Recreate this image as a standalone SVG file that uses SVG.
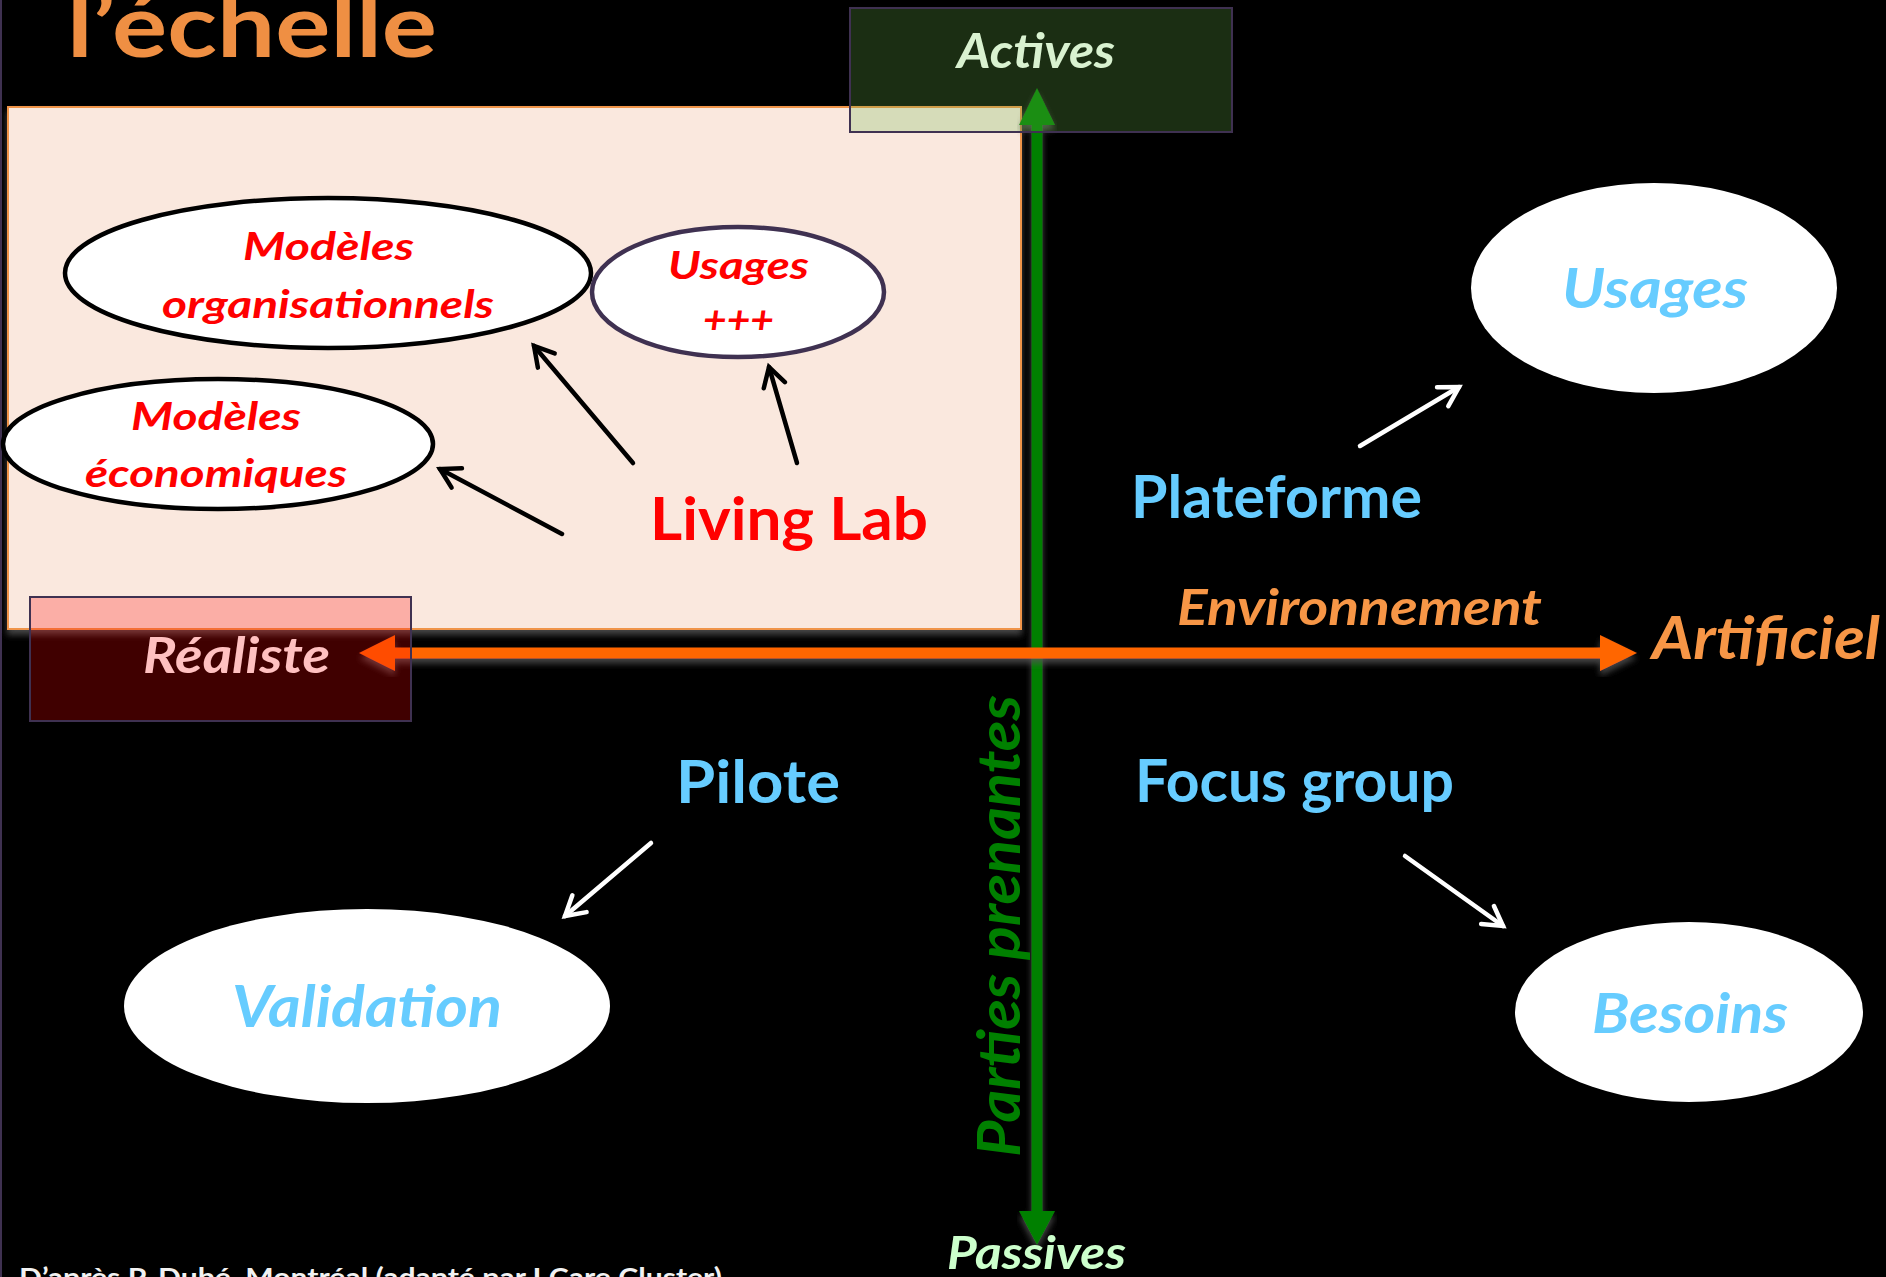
<svg xmlns="http://www.w3.org/2000/svg" width="1886" height="1277" viewBox="0 0 1886 1277">
<defs>
<style>
text{font-family:Lato,"Open Sans","Liberation Sans",sans-serif;font-weight:bold}
.it{font-style:italic}
.red{fill:#FF0000}
.blue{fill:#66CCFF}
.orange{fill:#F79646}
.inner{fill:#FFFFFF;stroke:#000000;stroke-width:4.5}
.outer{fill:#FFFFFF}
.ba{stroke:#000000;stroke-width:4.5;fill:none;stroke-linecap:round}
.wa{stroke:#FFFFFF;stroke-width:4.5;fill:none;stroke-linecap:round}
</style>
<marker id="hb" markerUnits="userSpaceOnUse" markerWidth="40" markerHeight="40" viewBox="-30 -20 40 40" refX="0" refY="0" orient="auto">
<path d="M-19,-11 L0,0 L-19,11" fill="none" stroke="#000000" stroke-width="4.5" stroke-linecap="round" stroke-linejoin="miter"/>
</marker>
<marker id="hw" markerUnits="userSpaceOnUse" markerWidth="40" markerHeight="40" viewBox="-30 -20 40 40" refX="0" refY="0" orient="auto">
<path d="M-19,-11 L0,0 L-19,11" fill="none" stroke="#FFFFFF" stroke-width="4.5" stroke-linecap="round" stroke-linejoin="miter"/>
</marker>
<filter id="sh" x="-5%" y="-5%" width="110%" height="120%">
<feDropShadow dx="0" dy="5" stdDeviation="3" flood-color="#555555" flood-opacity="0.8"/>
</filter>
</defs>
<rect x="0" y="0" width="1886" height="1277" fill="#000000"/>
<line x1="1" y1="0" x2="1" y2="1277" stroke="#3F3151" stroke-width="2"/>

<g id="title"><text x="67" y="57" font-size="88" fill="#EF8F43" textLength="370" lengthAdjust="spacingAndGlyphs">l’échelle</text></g>

<g id="living-lab-zone"><rect x="8" y="107" width="1013" height="522" fill="#FAE8DE" stroke="#F09448" stroke-width="2" filter="url(#sh)"/></g>

<g id="axes">
<g id="axis-parties" filter="url(#sh)">
<line x1="1037" y1="120" x2="1037" y2="1214" stroke="#008000" stroke-width="11"/>
<polygon points="1019,125 1037,88 1055,125" fill="#008000"/>
<polygon points="1019,1211 1037,1245 1055,1211" fill="#008000"/>
</g>
<g id="axis-environnement" filter="url(#sh)">
<line x1="392" y1="653" x2="1603" y2="653" stroke="#FF6600" stroke-width="11"/>
<polygon points="395,635 359,653 395,671" fill="#FF6600"/>
<polygon points="1600,635 1637,653 1600,671" fill="#FF6600"/>
</g>
</g>

<g id="node-modeles-org">
<ellipse class="inner" cx="328" cy="273" rx="263" ry="75"/>
<text class="it red" x="243" y="260" font-size="39" textLength="171" lengthAdjust="spacingAndGlyphs">Modèles</text>
<text class="it red" x="162" y="318" font-size="39" textLength="332" lengthAdjust="spacingAndGlyphs">organisationnels</text>
</g>
<g id="node-usages-plus">
<ellipse cx="738" cy="292" rx="146" ry="65" fill="#FFFFFF" stroke="#3F3151" stroke-width="4.5"/>
<text class="it red" x="668" y="279" font-size="39" textLength="141" lengthAdjust="spacingAndGlyphs">Usages</text>
<text class="it red" x="703" y="333" font-size="39" textLength="71" lengthAdjust="spacingAndGlyphs">+++</text>
</g>
<g id="node-modeles-eco">
<ellipse class="inner" cx="218" cy="444" rx="215" ry="65"/>
<text class="it red" x="131" y="430" font-size="39" textLength="170" lengthAdjust="spacingAndGlyphs">Modèles</text>
<text class="it red" x="85" y="487" font-size="39" textLength="262" lengthAdjust="spacingAndGlyphs">économiques</text>
</g>
<g id="node-living-lab">
<text class="red" x="650" y="540" font-size="60" textLength="278" lengthAdjust="spacingAndGlyphs">Living Lab</text>
</g>

<g id="node-usages">
<ellipse class="outer" cx="1654" cy="288" rx="183" ry="105"/>
<text class="it blue" x="1562" y="308" font-size="56" textLength="186" lengthAdjust="spacingAndGlyphs">Usages</text>
</g>
<g id="node-validation">
<ellipse class="outer" cx="367" cy="1006" rx="243" ry="97"/>
<text class="it blue" x="232" y="1027" font-size="58" textLength="270" lengthAdjust="spacingAndGlyphs">Validation</text>
</g>
<g id="node-besoins">
<ellipse class="outer" cx="1689" cy="1012" rx="174" ry="90"/>
<text class="it blue" x="1592" y="1033" font-size="56" textLength="196" lengthAdjust="spacingAndGlyphs">Besoins</text>
</g>
<g id="node-plateforme"><text class="blue" x="1131" y="518" font-size="60" textLength="291" lengthAdjust="spacingAndGlyphs">Plateforme</text></g>
<g id="node-pilote"><text class="blue" x="676" y="803" font-size="60" textLength="164" lengthAdjust="spacingAndGlyphs">Pilote</text></g>
<g id="node-focus"><text class="blue" x="1135" y="802" font-size="60" textLength="319" lengthAdjust="spacingAndGlyphs">Focus group</text></g>

<g id="connectors">
<line class="ba" x1="633" y1="463" x2="534" y2="346" marker-end="url(#hb)"/>
<line class="ba" x1="797" y1="463" x2="769" y2="367" marker-end="url(#hb)"/>
<line class="ba" x1="562" y1="534" x2="440" y2="469" marker-end="url(#hb)"/>
<line class="wa" x1="1360" y1="446" x2="1459" y2="387" marker-end="url(#hw)"/>
<line class="wa" x1="651" y1="843" x2="565" y2="916" marker-end="url(#hw)"/>
<line class="wa" x1="1405" y1="856" x2="1503" y2="926" marker-end="url(#hw)"/>
</g>

<g id="node-actives">
<rect x="850" y="8" width="382" height="124" fill="#6CB84C" fill-opacity="0.25" stroke="#3F3151" stroke-width="2"/>
<text class="it" x="957" y="68" font-size="47" fill="#D9F2D0" textLength="158" lengthAdjust="spacingAndGlyphs">Actives</text>
</g>
<g id="node-realiste">
<rect x="30" y="597" width="381" height="124" fill="#FF0000" fill-opacity="0.25" stroke="#3F3151" stroke-width="2"/>
<text class="it" x="143" y="673" font-size="50" fill="#FFC0C0" textLength="187" lengthAdjust="spacingAndGlyphs">Réaliste</text>
</g>
<g id="node-passives"><text class="it" x="947" y="1269" font-size="46" fill="#CCFFCC" textLength="179" lengthAdjust="spacingAndGlyphs">Passives</text></g>
<g id="node-environnement"><text class="it orange" x="1177" y="625" font-size="49" textLength="365" lengthAdjust="spacingAndGlyphs">Environnement</text></g>
<g id="node-artificiel"><text class="it orange" x="1652" y="659" font-size="60" textLength="228" lengthAdjust="spacingAndGlyphs">Artificiel</text></g>
<g id="node-parties"><text class="it" transform="translate(1020,926) rotate(-90)" x="0" y="0" text-anchor="middle" font-size="60" fill="#008000" textLength="462" lengthAdjust="spacingAndGlyphs">Parties prenantes</text></g>
<g id="footer"><text x="19" y="1287" font-size="26" fill="#F2F2F2" textLength="703" lengthAdjust="spacingAndGlyphs">D’après P. Dubé, Montréal (adapté par I Care Cluster)</text></g>
</svg>
